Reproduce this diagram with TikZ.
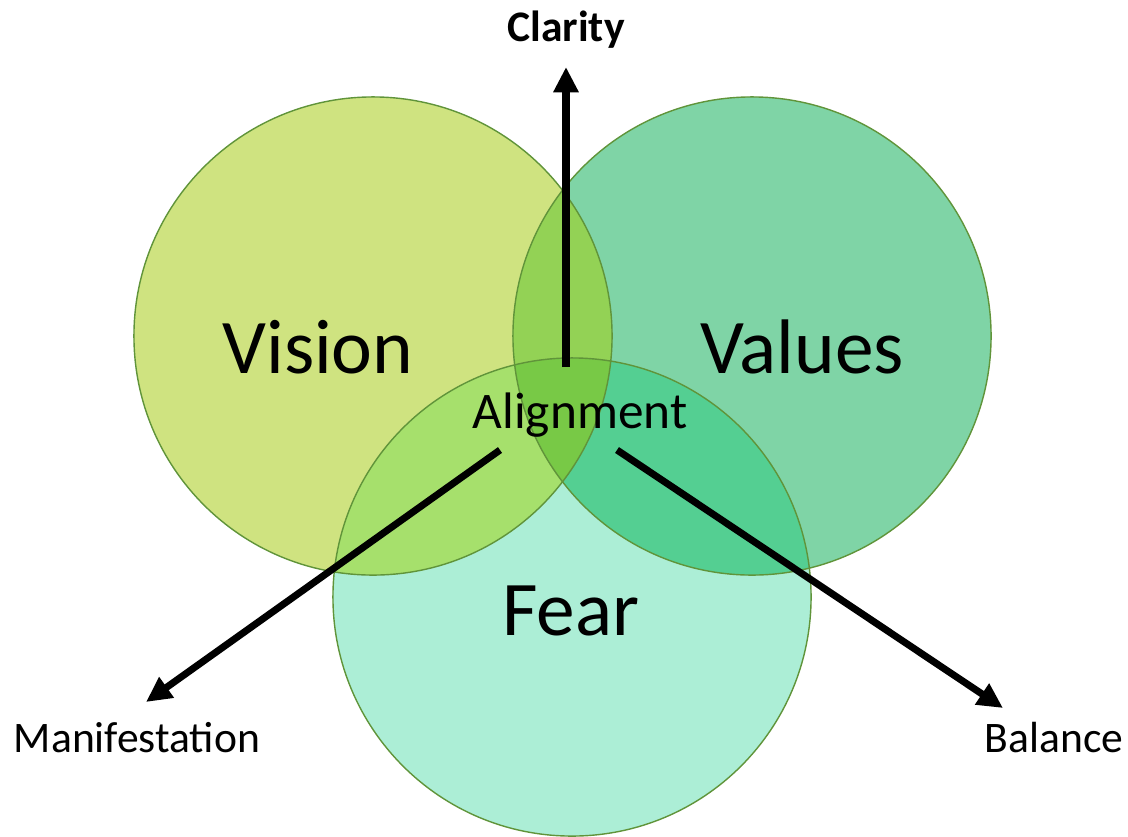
\documentclass[tikz,border=0pt]{standalone}
\usepackage{fontspec}
\setmainfont{Carlito}
\usetikzlibrary{arrows.meta}
\definecolor{vis}{RGB}{207,227,128}
\definecolor{val}{RGB}{127,212,166}
\definecolor{fea}{RGB}{172,238,214}
\definecolor{visval}{RGB}{147,210,85}
\definecolor{visfea}{RGB}{166,224,108}
\definecolor{valfea}{RGB}{84,207,146}
\definecolor{core}{RGB}{120,201,70}
\definecolor{rim}{RGB}{96,148,58}

\begin{document}
\begin{tikzpicture}[x=0.025cm, y=-0.025cm,
    ring/.style={draw=rim, line width=1pt},
    big/.style={anchor=base, font=\fontsize{55}{60}\selectfont},
    mid/.style={anchor=base, font=\fontsize{36.5}{40}\selectfont},
    small/.style={anchor=base, font=\fontsize{31}{34}\selectfont},
    ar/.style={-{Triangle[length=18pt, width=17pt]}, line width=5pt}
]
\useasboundingbox (0,0) rectangle (1128,836);
\coordinate (vc) at (373,336);
\coordinate (lc) at (752,336);
\coordinate (fc) at (572,597);

% discs and their overlaps
\fill[vis] (vc) circle (5.975cm);
\fill[val] (lc) circle (5.975cm);
\fill[fea] (fc) circle (5.975cm);
\begin{scope}
  \clip (vc) circle (5.975cm);
  \fill[visval] (lc) circle (5.975cm);
  \fill[visfea] (fc) circle (5.975cm);
\end{scope}
\begin{scope}
  \clip (lc) circle (5.975cm);
  \fill[valfea] (fc) circle (5.975cm);
  \clip (vc) circle (5.975cm);
  \fill[core] (fc) circle (5.975cm);
\end{scope}
\draw[ring] (vc) circle (5.975cm);
\draw[ring] (lc) circle (5.975cm);
\draw[ring] (fc) circle (5.975cm);

\node[big] (vision) at (318,373) {Vision};
\node[big] (values) at (802,373) {Values};
\node[big] (fear) at (571,635) {Fear};
\node[mid] (align) at (580,428) {Alignment};

\node[small, font=\fontsize{31}{34}\selectfont\bfseries] (clarity) at (566,41) {Clarity};
\node[small] (manif) at (137,752) {Manifestation};
\node[small] (balance) at (1054,752) {Balance};

% arrows out of the middle
\coordinate (up0) at (566,367);   \coordinate (up1) at (566,67);
\coordinate (lf0) at (500,450);   \coordinate (lf1) at (146,702);
\coordinate (rt0) at (617,450);   \coordinate (rt1) at (1003,708);
\draw[ar] (up0) -- (up1);
\draw[ar] (lf0) -- (lf1);
\draw[ar] (rt0) -- (rt1);
\end{tikzpicture}
\end{document}
